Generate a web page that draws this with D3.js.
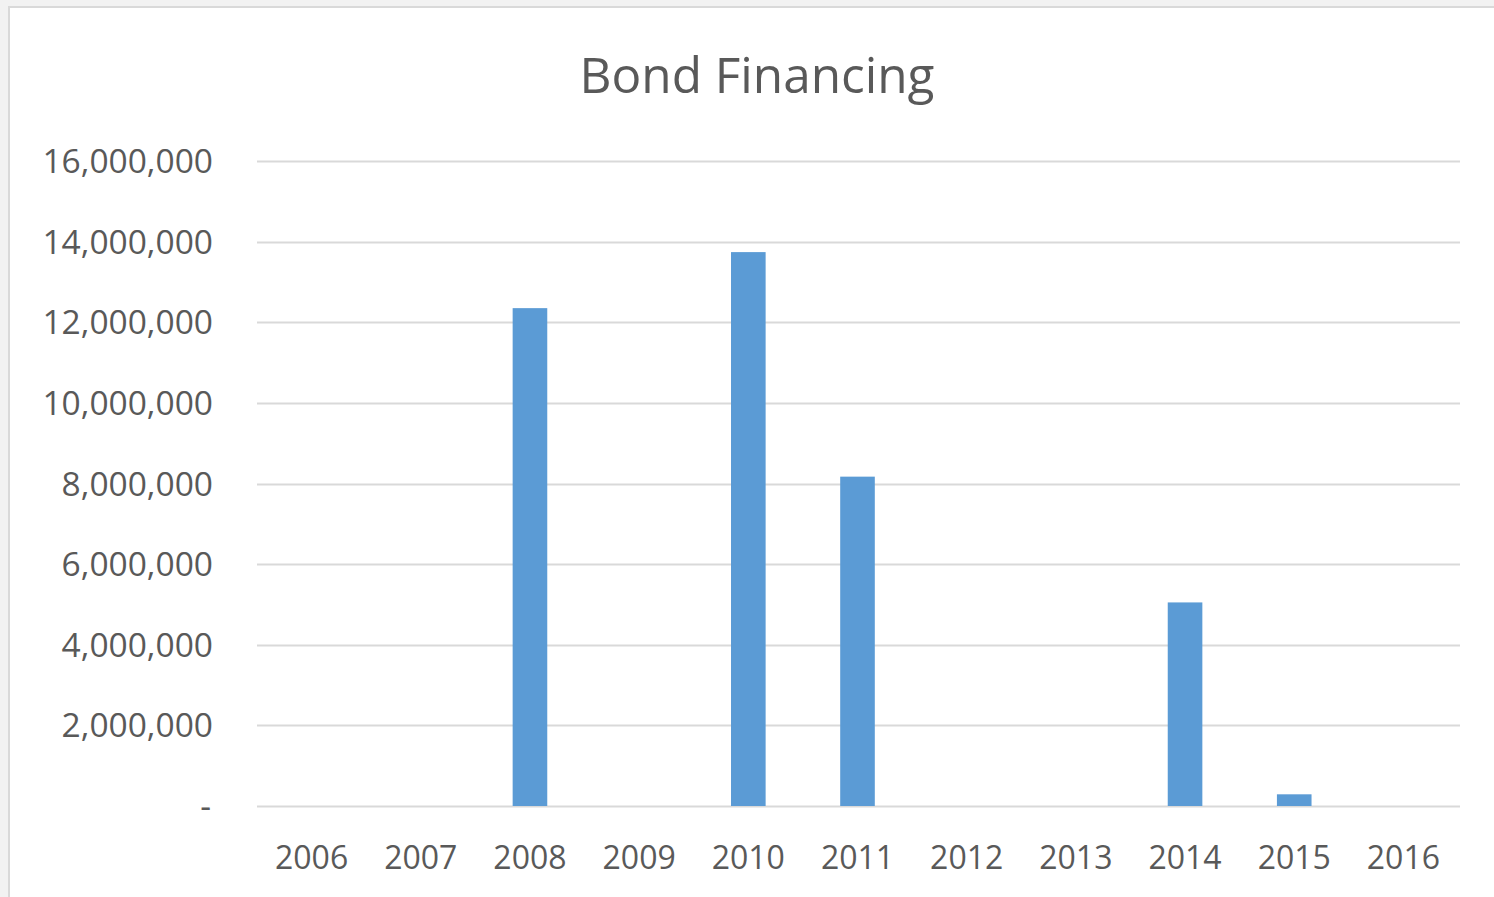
<!DOCTYPE html>
<html>
<head>
<meta charset="utf-8">
<script src="https://cdn.jsdelivr.net/npm/d3@7"></script>
<style>
  html, body { margin: 0; padding: 0; background: #f2f2f2; overflow: hidden; }
  #chart { position: absolute; left: 8px; top: 6px; width: 1500px; height: 900px;
           background: #fff; border-left: 2px solid #d9d9d9; border-top: 2px solid #d9d9d9; }
  text { font-family: "Open Sans", sans-serif; fill: #595959; }
</style>
</head>
<body>
<div id="chart"></div>
<script>
// data
const years = ['2006', '2007', '2008', '2009', '2010', '2011', '2012', '2013', '2014', '2015', '2016'];
const bondValues = [0, 0, 12350000, 0, 13740000, 8170000, 0, 0, 5050000, 290000, 0];
const yTicks = [0, 2000000, 4000000, 6000000, 8000000, 10000000, 12000000, 14000000, 16000000];
const chartTitle = 'Bond Financing';

// offset of the white chart area inside the page
const ox = 10, oy = 8;

const svg = d3.select('#chart').append('svg')
    .attr('width', 1500)
    .attr('height', 900)
    .style('display', 'block');

const g = svg.append('g').attr('transform', `translate(${-ox},${-oy})`);

const x = d3.scaleBand()
    .domain(years)
    .range([257, 1458])
    .paddingInner(0.683)
    .paddingOuter(0.3415);

const y = d3.scaleLinear()
    .domain([0, 16000000])
    .range([806, 161]);

const fmt = d3.format(',');

// gridlines
g.selectAll('line.grid')
  .data(yTicks)
  .enter().append('line')
    .attr('class', 'grid')
    .attr('x1', 257)
    .attr('x2', 1460)
    .attr('y1', d => Math.round(y(d)) + 0.5)
    .attr('y2', d => Math.round(y(d)) + 0.5)
    .style('stroke', '#d9d9d9')
    .style('stroke-width', 2);

// y labels
g.selectAll('text.ylab')
  .data(yTicks)
  .enter().append('text')
    .attr('class', 'ylab')
    .attr('x', d => d === 0 ? 211 : 213)
    .attr('y', d => y(d))
    .attr('dy', '0.36em')
    .attr('text-anchor', 'end')
    .style('font-size', '33.5px')
    .text(d => d === 0 ? '-' : fmt(d));

// bars
g.selectAll('rect.bar')
  .data(bondValues)
  .enter().append('rect')
    .attr('class', 'bar')
    .attr('x', (d, i) => x(years[i]))
    .attr('width', x.bandwidth())
    .attr('y', d => y(d))
    .attr('height', d => y(0) - y(d))
    .style('fill', '#5b9bd5');

// x labels
g.selectAll('text.xlab')
  .data(years)
  .enter().append('text')
    .attr('class', 'xlab')
    .attr('x', d => x(d) + x.bandwidth() / 2)
    .attr('y', 869)
    .attr('text-anchor', 'middle')
    .style('font-size', '32px')
    .text(d => d);

// title
g.append('text')
    .attr('x', 757)
    .attr('y', 93)
    .attr('text-anchor', 'middle')
    .style('font-size', '49.5px')
    .text(chartTitle);
</script>
</body>
</html>
